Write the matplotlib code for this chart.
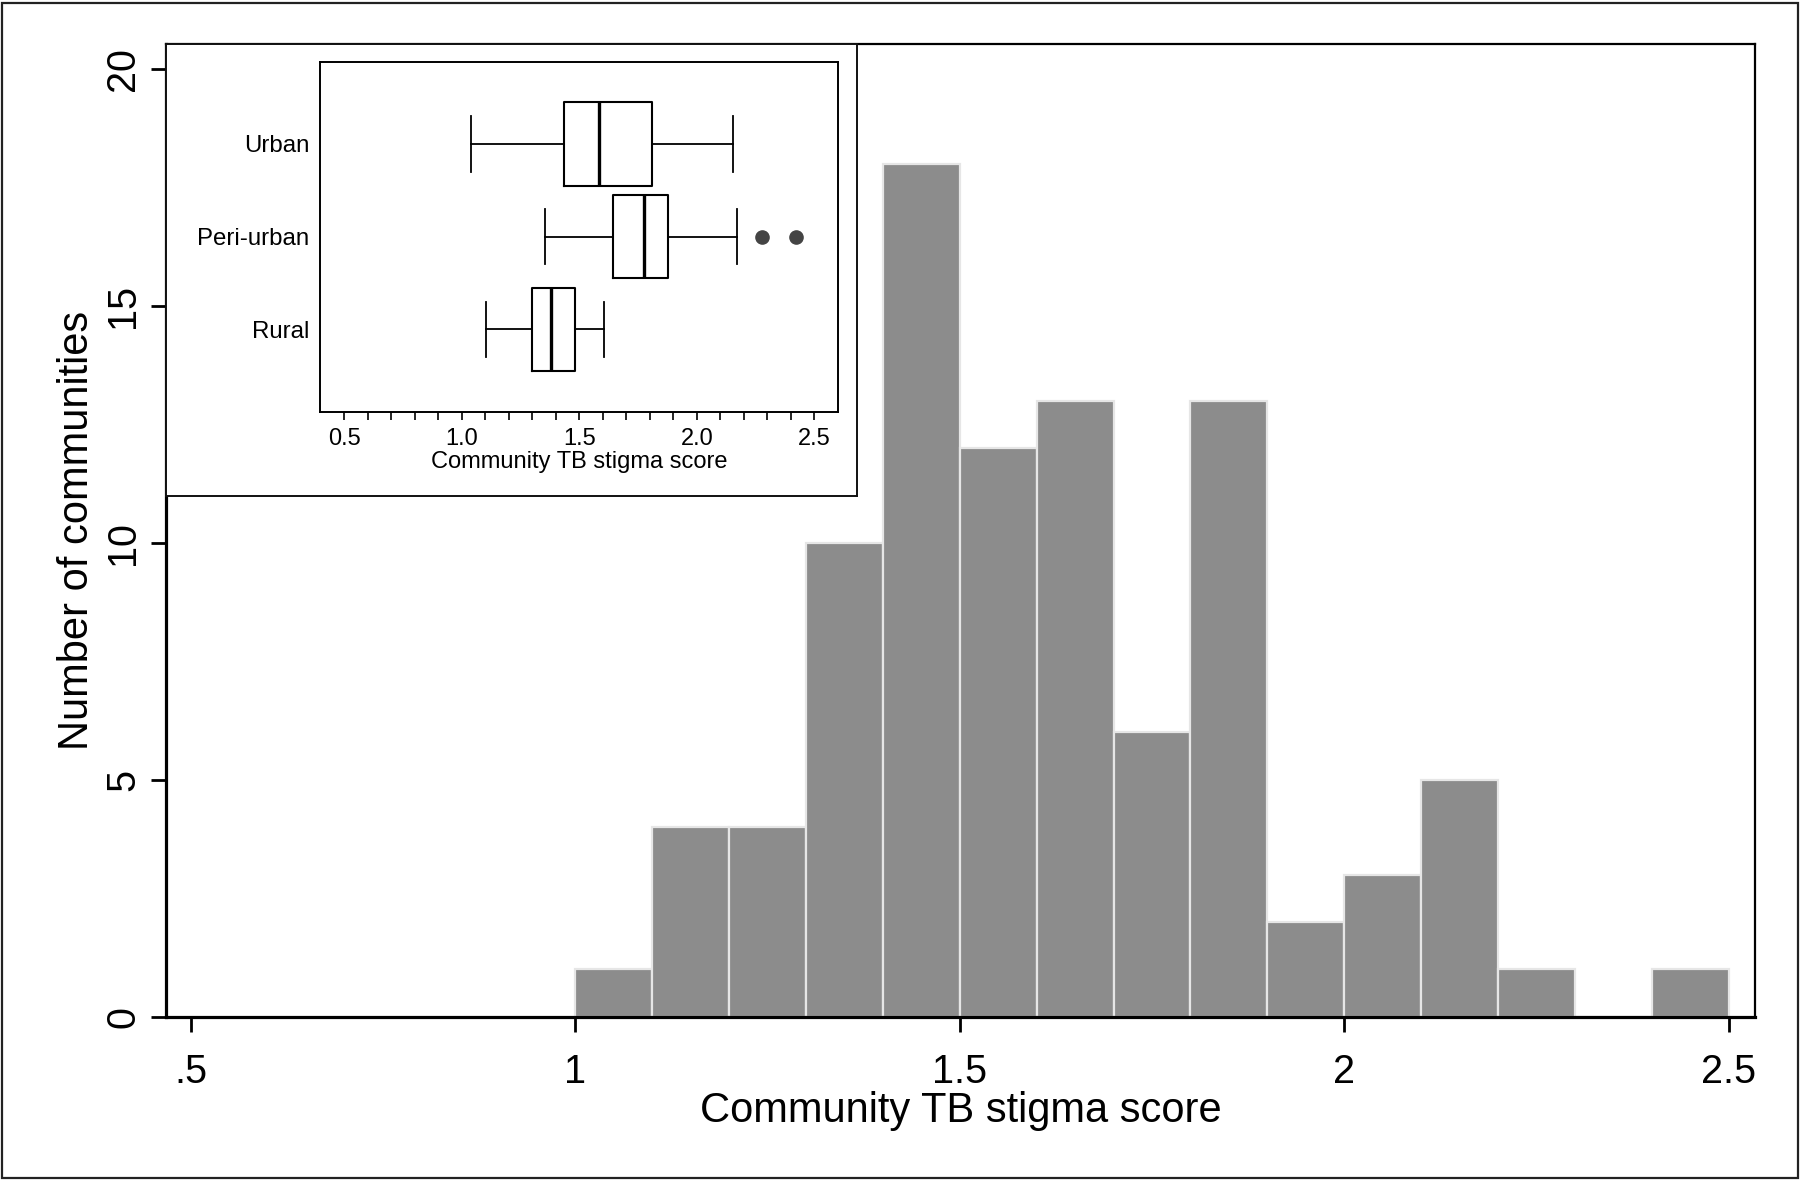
import matplotlib
matplotlib.use("Agg")
import matplotlib.pyplot as plt
from matplotlib.patches import Rectangle
import numpy as np

plt.rcParams['font.family'] = ['Liberation Sans', 'DejaVu Sans']

# ---- Histogram data ----
bin_edges = [1.0, 1.1, 1.2, 1.3, 1.4, 1.5, 1.6, 1.7, 1.8, 1.9, 2.0, 2.1, 2.2, 2.3, 2.4, 2.5]
counts = [1, 4, 4, 10, 18, 12, 13, 6, 13, 2, 3, 5, 1, 0, 1]
main_xticks = [0.5, 1.0, 1.5, 2.0, 2.5]
main_xticklabels = [".5", "1", "1.5", "2", "2.5"]
main_yticks = [0, 5, 10, 15, 20]

# ---- Inset boxplot data ----
groups = ["Urban", "Peri-urban", "Rural"]
whislo = [1.040, 1.354, 1.102]
q1 = [1.435, 1.643, 1.297]
med = [1.582, 1.777, 1.379]
q3 = [1.810, 1.878, 1.483]
whishi = [2.153, 2.170, 1.606]
fliers = [[], [2.278, 2.422], []]
inset_xticks = [0.5, 1.0, 1.5, 2.0, 2.5]
inset_xticklabels = ["0.5", "1.0", "1.5", "2.0", "2.5"]

W, H = 1800, 1180
fig = plt.figure(figsize=(W / 100, H / 100), dpi=100)

# Outer frame
fig.patches.append(Rectangle((2 / W, 2 / H), 1 - 4.5 / W, 1 - 4.5 / H,
                             transform=fig.transFigure, fill=False,
                             edgecolor='#222222', lw=1.6, zorder=10))

ax = fig.add_axes([0.0921, 0.1384, 0.975 - 0.0921, 0.9625 - 0.1384])
widths = np.diff(bin_edges)
ax.bar(bin_edges[:-1], counts, width=widths, align='edge', color='#8c8c8c',
       edgecolor='#e6e6e6', linewidth=1.6, zorder=2)
ax.set_xlim(0.4677, 2.534)
ax.set_ylim(0, 20.53)
ax.set_xticks(main_xticks)
ax.set_xticklabels(main_xticklabels)
ax.set_yticks(main_yticks)
ax.tick_params(axis='both', direction='out', length=11, width=2, labelsize=28.5, color='black')
ax.tick_params(axis='x', pad=15)
ax.tick_params(axis='y', pad=6, labelrotation=90)
for lbl in ax.get_yticklabels():
    lbl.set_va('center')
for s in ['left', 'bottom']:
    ax.spines[s].set_linewidth(2.3)
for s in ['top', 'right']:
    ax.spines[s].set_linewidth(1.6)
ax.set_xlabel("Community TB stigma score", fontsize=30, labelpad=0)
ax.set_ylabel("Number of communities", fontsize=30, labelpad=5)

# Inset outer box
box_ax = fig.add_axes([0.0921, 0.5797, 0.476 - 0.0921, 0.9625 - 0.5797], zorder=3)
box_ax.set_xticks([])
box_ax.set_yticks([])
for s in box_ax.spines.values():
    s.set_linewidth(1.4)
    s.set_color('#111111')

# Inset inner axes
iax = fig.add_axes([0.178, 0.6511, 0.4656 - 0.178, 0.9472 - 0.6511], zorder=4)
stats = []
for i, g in enumerate(groups):
    stats.append(dict(label=g, whislo=whislo[i], q1=q1[i], med=med[i], q3=q3[i],
                      whishi=whishi[i], fliers=fliers[i]))
positions = [3, 2, 1]
iax.bxp(stats, positions=positions, vert=False, widths=0.9, capwidths=0.6,
        boxprops=dict(color='black', linewidth=1.5),
        whiskerprops=dict(color='black', linewidth=1.3),
        capprops=dict(color='black', linewidth=1.3),
        medianprops=dict(color='black', linewidth=2.4),
        flierprops=dict(marker='o', markerfacecolor='#444444', markeredgecolor='#444444',
                        markersize=9.5))
iax.set_xlim(0.398, 2.601)
iax.set_ylim(0.112, 3.879)
iax.set_xticks(inset_xticks)
iax.set_xticklabels(inset_xticklabels)
iax.set_xticks(np.arange(0.6, 2.5, 0.1)[[k for k in range(19) if (k + 1) % 5 != 0]], minor=True)
iax.tick_params(axis='x', which='both', direction='out', length=5.5, width=1.2, labelsize=17, pad=6)
iax.tick_params(axis='y', length=0, labelsize=17.3, pad=8)
for s in iax.spines.values():
    s.set_linewidth(1.4)
iax.set_xlabel("Community TB stigma score", fontsize=17, labelpad=1)

fig.savefig("out.png", dpi=100)
